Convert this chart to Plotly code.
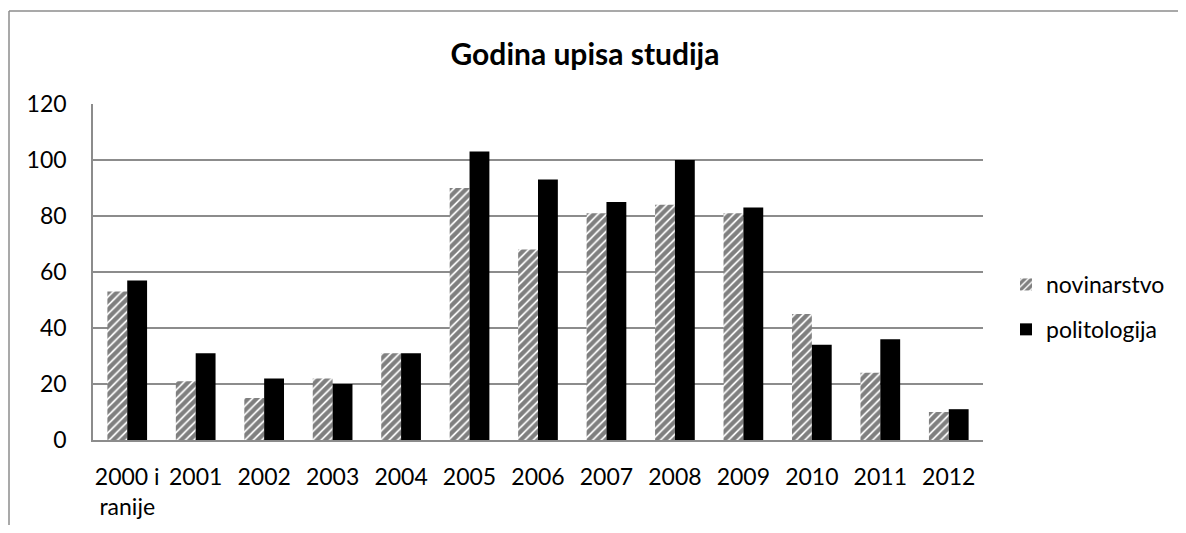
import plotly.graph_objects as go

categories = ["2000 i<br>ranije", "2001", "2002", "2003", "2004", "2005", "2006",
              "2007", "2008", "2009", "2010", "2011", "2012"]
novinarstvo = [53, 21, 15, 22, 31, 90, 68, 81, 84, 81, 45, 24, 10]
politologija = [57, 31, 22, 20, 31, 103, 93, 85, 100, 83, 34, 36, 11]
y_ticks = [0, 20, 40, 60, 80, 100, 120]

# page has an 8px body margin, so work in figure coordinates = page - 8
OFF = 8
W, H = 1186 - 2 * OFF, 533 - 2 * OFF
L, R, T, B = 93 - OFF, 983 - OFF, 104 - OFF, 440 - OFF
FONT = "Lato, 'Open Sans', sans-serif"

fig = go.Figure()
fig.add_trace(go.Bar(
    x=categories, y=novinarstvo, name="novinarstvo", legendgroup="a",
    marker=dict(color="white", line=dict(width=0),
                pattern=dict(shape="/", fgcolor="black", bgcolor="white",
                             size=6, solidity=0.7, fillmode="overlay")),
))
fig.add_trace(go.Bar(
    x=categories, y=politologija, name="politologija", legendgroup="b",
    marker=dict(color="black", line=dict(width=0)),
))

def px(x):
    return (x - OFF - L) / (R - L)

def py(y):
    return (B - (y - OFF)) / (B - T)

border = dict(color="#8c8c8c", width=1.5)
# outer chart frame: only its left and top edges fall inside the picture
fig.add_shape(type="line", xref="paper", yref="paper",
              x0=px(9), x1=px(1186), y0=py(11), y1=py(11), line=border, layer="below")
fig.add_shape(type="line", xref="paper", yref="paper",
              x0=px(9), x1=px(9), y0=py(533), y1=py(11), line=border, layer="below")

fig.update_layout(
    width=W, height=H,
    margin=dict(l=L, r=W - R, t=T, b=H - B, pad=0, autoexpand=False),
    paper_bgcolor="white", plot_bgcolor="white",
    barmode="group", bargap=0.42, bargroupgap=0,
    font=dict(family=FONT, size=24, color="black"),
    title=dict(text="<b>Godina upisa studija</b>", x=(585 - OFF) / W, xref="container",
               xanchor="center", y=1 - (54 - OFF) / H, yref="container", yanchor="middle",
               font=dict(family=FONT, size=30, color="black")),
    xaxis=dict(showgrid=False, showline=True, linecolor="#8c8c8c", linewidth=1.5,
               ticks="", tickfont=dict(size=23), ticklabelstandoff=16, automargin=False),
    yaxis=dict(range=[0, 120], tickvals=y_ticks, showgrid=True, gridcolor="#8c8c8c",
               gridwidth=1.5, showline=True, linecolor="#8c8c8c", linewidth=1.5,
               zeroline=False, ticks="", tickfont=dict(size=23), ticklabelstandoff=20,
               automargin=False),
    legend=dict(x=px(1006), y=py(263), xanchor="left", yanchor="top",
                font=dict(size=23), tracegroupgap=12, traceorder="grouped",
                itemwidth=30, bgcolor="rgba(0,0,0,0)"),
)

fig.write_html("out.html")
